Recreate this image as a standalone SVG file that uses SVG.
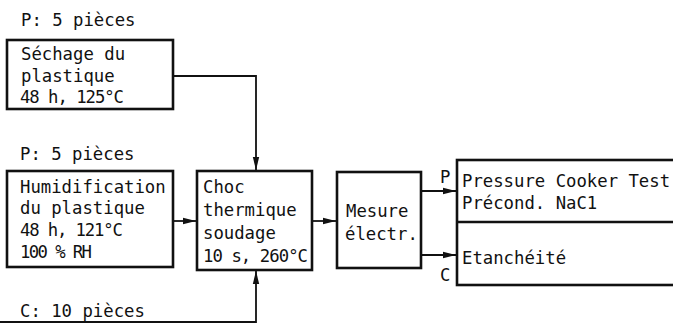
<svg xmlns="http://www.w3.org/2000/svg" width="673" height="327" viewBox="0 0 673 327">
<style>
.b{fill:#fff;stroke:#111;stroke-width:2.6}
.c{fill:none;stroke:#111;stroke-width:1.8}
text{font-family:"DejaVu Sans Mono","Liberation Mono",monospace;font-size:17.3px;fill:#111}
</style>
<defs>
<marker id="a" markerWidth="14" markerHeight="8" refX="13" refY="4" orient="auto" markerUnits="userSpaceOnUse">
<path d="M0,0.8 L13,4 L0,7.2 Z" fill="#111"/>
</marker>
</defs>
<rect width="673" height="327" fill="#fff"/>
<g id="connectors">
<path class="c" d="M173,76 H256 V170" marker-end="url(#a)"/>
<path class="c" d="M173,221 H196" marker-end="url(#a)"/>
<path class="c" d="M0,322 H256 V271" marker-end="url(#a)"/>
<path class="c" d="M312,221 H336" marker-end="url(#a)"/>
<path class="c" d="M421,191 H456" marker-end="url(#a)"/>
<path class="c" d="M421,255 H456" marker-end="url(#a)"/>
</g>
<g id="label-p1"><text x="21" y="26">P: 5 pièces</text></g>
<g id="sechage">
<rect class="b" x="7" y="40" width="166" height="69"/>
<text x="21" y="60">Séchage du</text>
<text x="21" y="82">plastique</text>
<text x="20" y="103" textLength="104" lengthAdjust="spacing">48 h, 125°C</text>
</g>
<g id="label-p2"><text x="20" y="160">P: 5 pièces</text></g>
<g id="humidification">
<rect class="b" x="7" y="171" width="166" height="96"/>
<text x="20" y="193">Humidification</text>
<text x="20" y="214">du plastique</text>
<text x="20" y="236" textLength="103" lengthAdjust="spacing">48 h, 121°C</text>
<text x="20" y="258" textLength="72" lengthAdjust="spacing">100 % RH</text>
</g>
<g id="label-c"><text x="20" y="317">C: 10 pièces</text></g>
<g id="choc">
<rect class="b" x="197" y="171" width="115" height="99"/>
<text x="203" y="193">Choc</text>
<text x="203" y="216">thermique</text>
<text x="203" y="239">soudage</text>
<text x="203" y="262" textLength="105" lengthAdjust="spacing">10 s, 260°C</text>
</g>
<g id="mesure">
<rect class="b" x="337" y="172" width="84" height="96"/>
<text x="346" y="217">Mesure</text>
<text x="345" y="240">électr.</text>
</g>
<g id="tests">
<rect class="b" x="457" y="160" width="220" height="125"/>
<line class="b" x1="457" y1="222" x2="673" y2="222"/>
<text x="462" y="187">Pressure Cooker Test</text>
<text x="462" y="209">Précond. NaC1</text>
<text x="462" y="264">Etanchéité</text>
</g>
<g id="label-pc">
<text x="440" y="183">P</text>
<text x="440" y="281">C</text>
</g>
</svg>
